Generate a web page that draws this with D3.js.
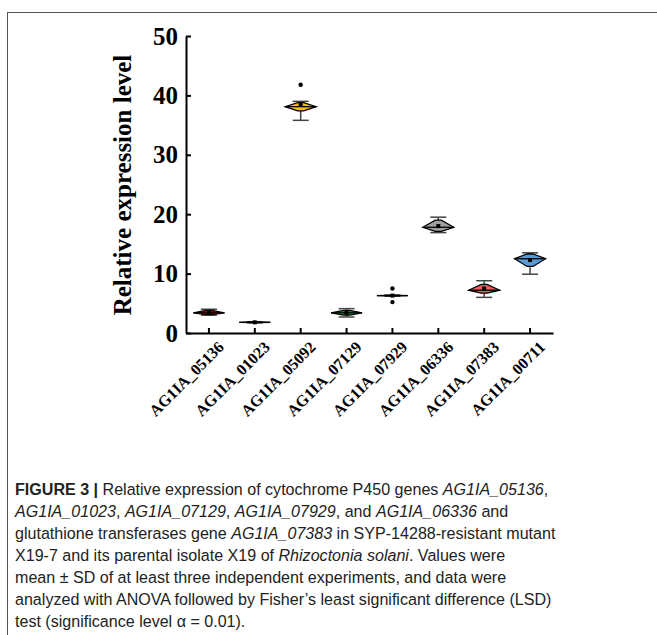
<!DOCTYPE html>
<html>
<head>
<meta charset="utf-8">
<script src="https://cdn.jsdelivr.net/npm/d3@7"></script>
<style>
body { margin: 0; background: #fff; }
svg { display: block; }
.cap { font-family: "Liberation Sans", Arial, sans-serif; font-size: 17px; fill: #222; }
</style>
</head>
<body>
<svg id="chart" width="657" height="635"></svg>
<script>
var genes = ["AG1IA_05136", "AG1IA_01023", "AG1IA_05092", "AG1IA_07129", "AG1IA_07929", "AG1IA_06336", "AG1IA_07383", "AG1IA_00711"];
var colors = ["#c00000", "#1a1a1a", "#f5c000", "#1f9a55", "#1a1a1a", "#a0a0a0", "#f05a5a", "#5b9bd5"];
var wMin   = [3.0, 1.7, 35.8, 2.7, 6.2, 16.9, 6.0, 9.9];
var q1     = [3.1, 1.75, 37.4, 3.0, 6.25, 17.1, 6.7, 11.2];
var median = [3.4, 1.8, 38.1, 3.4, 6.3, 17.8, 7.2, 12.5];
var q3     = [3.8, 1.85, 38.8, 3.8, 6.35, 19.0, 8.2, 13.3];
var wMax   = [4.0, 1.9, 39.0, 4.1, 6.4, 19.5, 8.8, 13.5];
var means  = [3.5, 1.8, 38.4, 3.4, 6.3, 18.0, 7.5, 12.3];
var outliers = [[], [], [41.8], [], [7.5, 5.2], [], [], []];
var yTicks = [0, 10, 20, 30, 40, 50];

var svg = d3.select("#chart");

// figure frame
svg.append("rect")
    .attr("x", 7.5).attr("y", 12.5)
    .attr("width", 700).attr("height", 700)
    .attr("fill", "none").attr("stroke", "#555").attr("stroke-width", 1);

var x = d3.scaleBand().domain(genes).range([186, 553]).paddingInner(0).paddingOuter(0);
var y = d3.scaleLinear().domain([0, 50]).range([333, 36]);

var serif = "'Liberation Serif', 'Times New Roman', serif";

// y axis
var gy = svg.append("g").attr("transform", "translate(186,0)")
    .call(d3.axisLeft(y).tickValues(yTicks).tickSizeInner(-5).tickSizeOuter(0).tickPadding(8));
gy.select(".domain").attr("stroke-width", 2);
gy.selectAll(".tick line").attr("stroke-width", 2);
gy.selectAll("text")
    .attr("font-family", serif).attr("font-weight", "bold").attr("font-size", 25).attr("fill", "#000");

// x axis
var gx = svg.append("g").attr("transform", "translate(0,333)")
    .call(d3.axisBottom(x).tickSizeInner(-5).tickSizeOuter(0));
gx.select(".domain").attr("stroke-width", 2);
gx.selectAll(".tick line").attr("stroke-width", 2);
gx.selectAll("text")
    .attr("font-family", serif).attr("font-weight", "bold").attr("font-size", 16).attr("fill", "#000")
    .attr("text-anchor", "end")
    .attr("x", 0).attr("y", 0).attr("dy", 0)
    .attr("transform", "translate(16,15) rotate(-45)");

// y title
svg.append("text")
    .attr("transform", "translate(131,185) rotate(-90)")
    .attr("text-anchor", "middle")
    .attr("font-family", serif).attr("font-weight", "bold").attr("font-size", 25)
    .text("Relative expression level");

// boxes
var half = 15.5, tip = 3, capHalf = 8;
genes.forEach(function(g, i) {
    var cx = x(g) + x.bandwidth() / 2;
    var b = svg.append("g");
    // whiskers
    b.append("line").attr("x1", cx).attr("x2", cx).attr("y1", y(wMax[i])).attr("y2", y(q3[i]))
        .attr("stroke", "#444").attr("stroke-width", 1.5);
    b.append("line").attr("x1", cx).attr("x2", cx).attr("y1", y(q1[i])).attr("y2", y(wMin[i]))
        .attr("stroke", "#444").attr("stroke-width", 1.5);
    [wMax[i], wMin[i]].forEach(function(v) {
        b.append("line").attr("x1", cx - capHalf).attr("x2", cx + capHalf).attr("y1", y(v)).attr("y2", y(v))
            .attr("stroke", "#444").attr("stroke-width", 1.5);
    });
    var pts = [
        [cx - tip, y(q3[i])], [cx + tip, y(q3[i])], [cx + half, y(median[i])],
        [cx + tip, y(q1[i])], [cx - tip, y(q1[i])], [cx - half, y(median[i])]
    ];
    b.append("polygon").attr("points", pts.map(function(p) { return p.join(","); }).join(" "))
        .attr("fill", colors[i]).attr("stroke", "#000").attr("stroke-width", 1.3).attr("stroke-linejoin", "miter");
    b.append("line").attr("x1", cx - half).attr("x2", cx + half).attr("y1", y(median[i])).attr("y2", y(median[i]))
        .attr("stroke", "#000").attr("stroke-width", 1.3);
    b.append("rect").attr("x", cx - 2).attr("y", y(means[i]) - 2).attr("width", 4).attr("height", 4).attr("fill", "#000");
    outliers[i].forEach(function(v) {
        b.append("circle").attr("cx", cx).attr("cy", y(v)).attr("r", 2.2).attr("fill", "#000");
    });
});

// caption: one horizontal squeeze for all lines, fitted on the longest line
var lines = [
    [["b", "FIGURE 3 | "], ["n", "Relative expression of cytochrome P450 genes "], ["i", "AG1IA_05136"], ["n", ","]],
    [["i", "AG1IA_01023"], ["n", ", "], ["i", "AG1IA_07129"], ["n", ", "], ["i", "AG1IA_07929"], ["n", ", and "], ["i", "AG1IA_06336"], ["n", " and"]],
    [["n", "glutathione transferases gene "], ["i", "AG1IA_07383"], ["n", " in SYP-14288-resistant mutant"]],
    [["n", "X19-7 and its parental isolate X19 of "], ["i", "Rhizoctonia solani"], ["n", ". Values were"]],
    [["n", "mean \u00b1 SD of at least three independent experiments, and data were"]],
    [["n", "analyzed with ANOVA followed by Fisher\u2019s least significant difference (LSD)"]],
    [["n", "test (significance level \u03b1 = 0.01)."]]
];
var texts = lines.map(function(parts) {
    var t = svg.append("text").attr("class", "cap").attr("x", 0).attr("y", 0);
    parts.forEach(function(p) {
        var s = t.append("tspan").text(p[1]);
        if (p[0] == "b") s.attr("font-weight", "bold");
        if (p[0] == "i") s.attr("font-style", "italic");
    });
    return t;
});
var sx = 541 / texts[2].node().getComputedTextLength();
texts.forEach(function(t, k) {
    t.attr("transform", "translate(15," + (495 + k * 22) + ") scale(" + sx + ",1)");
});
</script>
</body>
</html>
